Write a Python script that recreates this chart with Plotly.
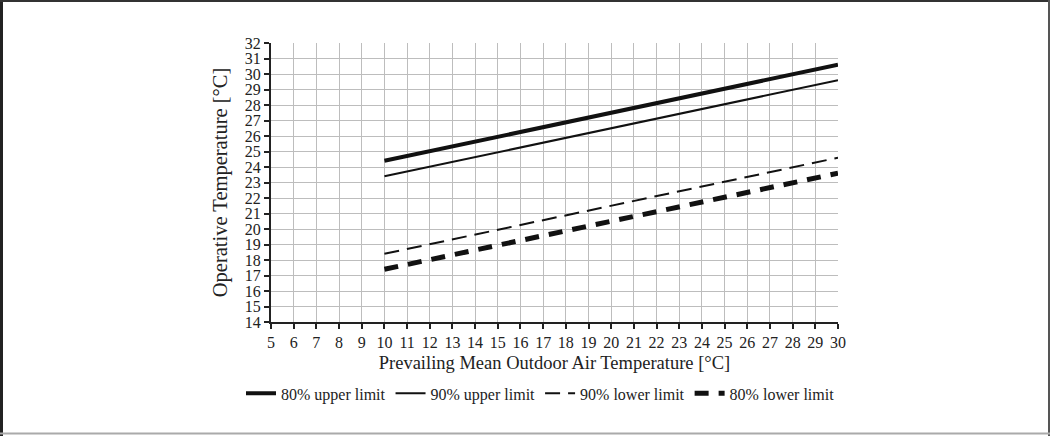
import plotly.graph_objects as go

# Data
outdoor_temp = [10, 30]
upper_80 = [24.4, 30.6]
upper_90 = [23.4, 29.6]
lower_90 = [18.4, 24.6]
lower_80 = [17.4, 23.6]

x_ticks = list(range(5, 31))
y_ticks = list(range(14, 33))

W, H = 1050, 436
ML, MR, MT, MB = 271, 212, 43, 114
FONT = "Liberation Serif, Times New Roman, serif"

fig = go.Figure()
fig.add_trace(go.Scatter(x=outdoor_temp, y=upper_80, mode="lines", name="80% upper limit",
                         line=dict(color="#111111", width=4)))
fig.add_trace(go.Scatter(x=outdoor_temp, y=upper_90, mode="lines", name="90% upper limit",
                         line=dict(color="#111111", width=2)))
fig.add_trace(go.Scatter(x=outdoor_temp, y=lower_90, mode="lines", name="90% lower limit",
                         line=dict(color="#111111", width=2, dash="15px,8px")))
fig.add_trace(go.Scatter(x=outdoor_temp, y=lower_80, mode="lines", name="80% lower limit",
                         line=dict(color="#111111", width=5, dash="14px,10px")))

pw = W - ML - MR
ph = H - MT - MB
# outer frame in paper coords
x0 = -ML / pw
x1 = 1 + MR / pw
y0 = -MB / ph
y1 = 1 + MT / ph
fig.add_shape(type="line", xref="paper", yref="paper", x0=x0 + 1.5 / pw, x1=x0 + 1.5 / pw,
              y0=y0, y1=y1, line=dict(color="#222222", width=3))
fig.add_shape(type="line", xref="paper", yref="paper", x0=x0, x1=x1,
              y0=y1 - 1 / ph, y1=y1 - 1 / ph, line=dict(color="#333333", width=2))
fig.add_shape(type="line", xref="paper", yref="paper", x0=x1 - 1 / pw, x1=x1 - 1 / pw,
              y0=y0, y1=y1, line=dict(color="#555555", width=2))
fig.add_shape(type="line", xref="paper", yref="paper", x0=x0, x1=x1,
              y0=y0 + 2.5 / ph, y1=y0 + 2.5 / ph, line=dict(color="#aaaaaa", width=2))

fig.update_layout(
    width=W, height=H,
    margin=dict(l=ML, r=MR, t=MT, b=MB, autoexpand=False),
    paper_bgcolor="white", plot_bgcolor="white",
    font=dict(family=FONT, color="#222222", size=16),
    showlegend=True,
    legend=dict(orientation="h", xref="paper", yref="paper",
                x=(241 - ML) / pw, xanchor="left", y=-0.195, yanchor="top",
                font=dict(family=FONT, size=16, color="#222222"),
                itemwidth=30, tracegroupgap=0, bgcolor="rgba(0,0,0,0)"),
)
fig.update_xaxes(
    range=[5, 30], tickmode="array", tickvals=x_ticks, ticktext=[str(v) for v in x_ticks],
    showgrid=True, gridcolor="#bdbdbd", gridwidth=1,
    showline=True, linecolor="#222222", linewidth=2,
    ticks="outside", ticklen=5, tickcolor="#222222", tickwidth=1.5,
    tickfont=dict(family=FONT, size=16, color="#222222"),
    title=dict(text="Prevailing Mean Outdoor Air Temperature [°C]",
               font=dict(family=FONT, size=18.5, color="#222222"), standoff=6),
    zeroline=False,
)
fig.update_yaxes(
    range=[14, 32], tickmode="array", tickvals=y_ticks, ticktext=[str(v) for v in y_ticks],
    showgrid=True, gridcolor="#bdbdbd", gridwidth=1,
    showline=True, linecolor="#222222", linewidth=2,
    ticks="outside", ticklen=5, tickcolor="#222222", tickwidth=1.5,
    tickfont=dict(family=FONT, size=16, color="#222222"),
    title=dict(text="Operative Temperature [°C]",
               font=dict(family=FONT, size=20.5, color="#222222"), standoff=12),
    zeroline=False,
)

fig.write_html("out.html")
